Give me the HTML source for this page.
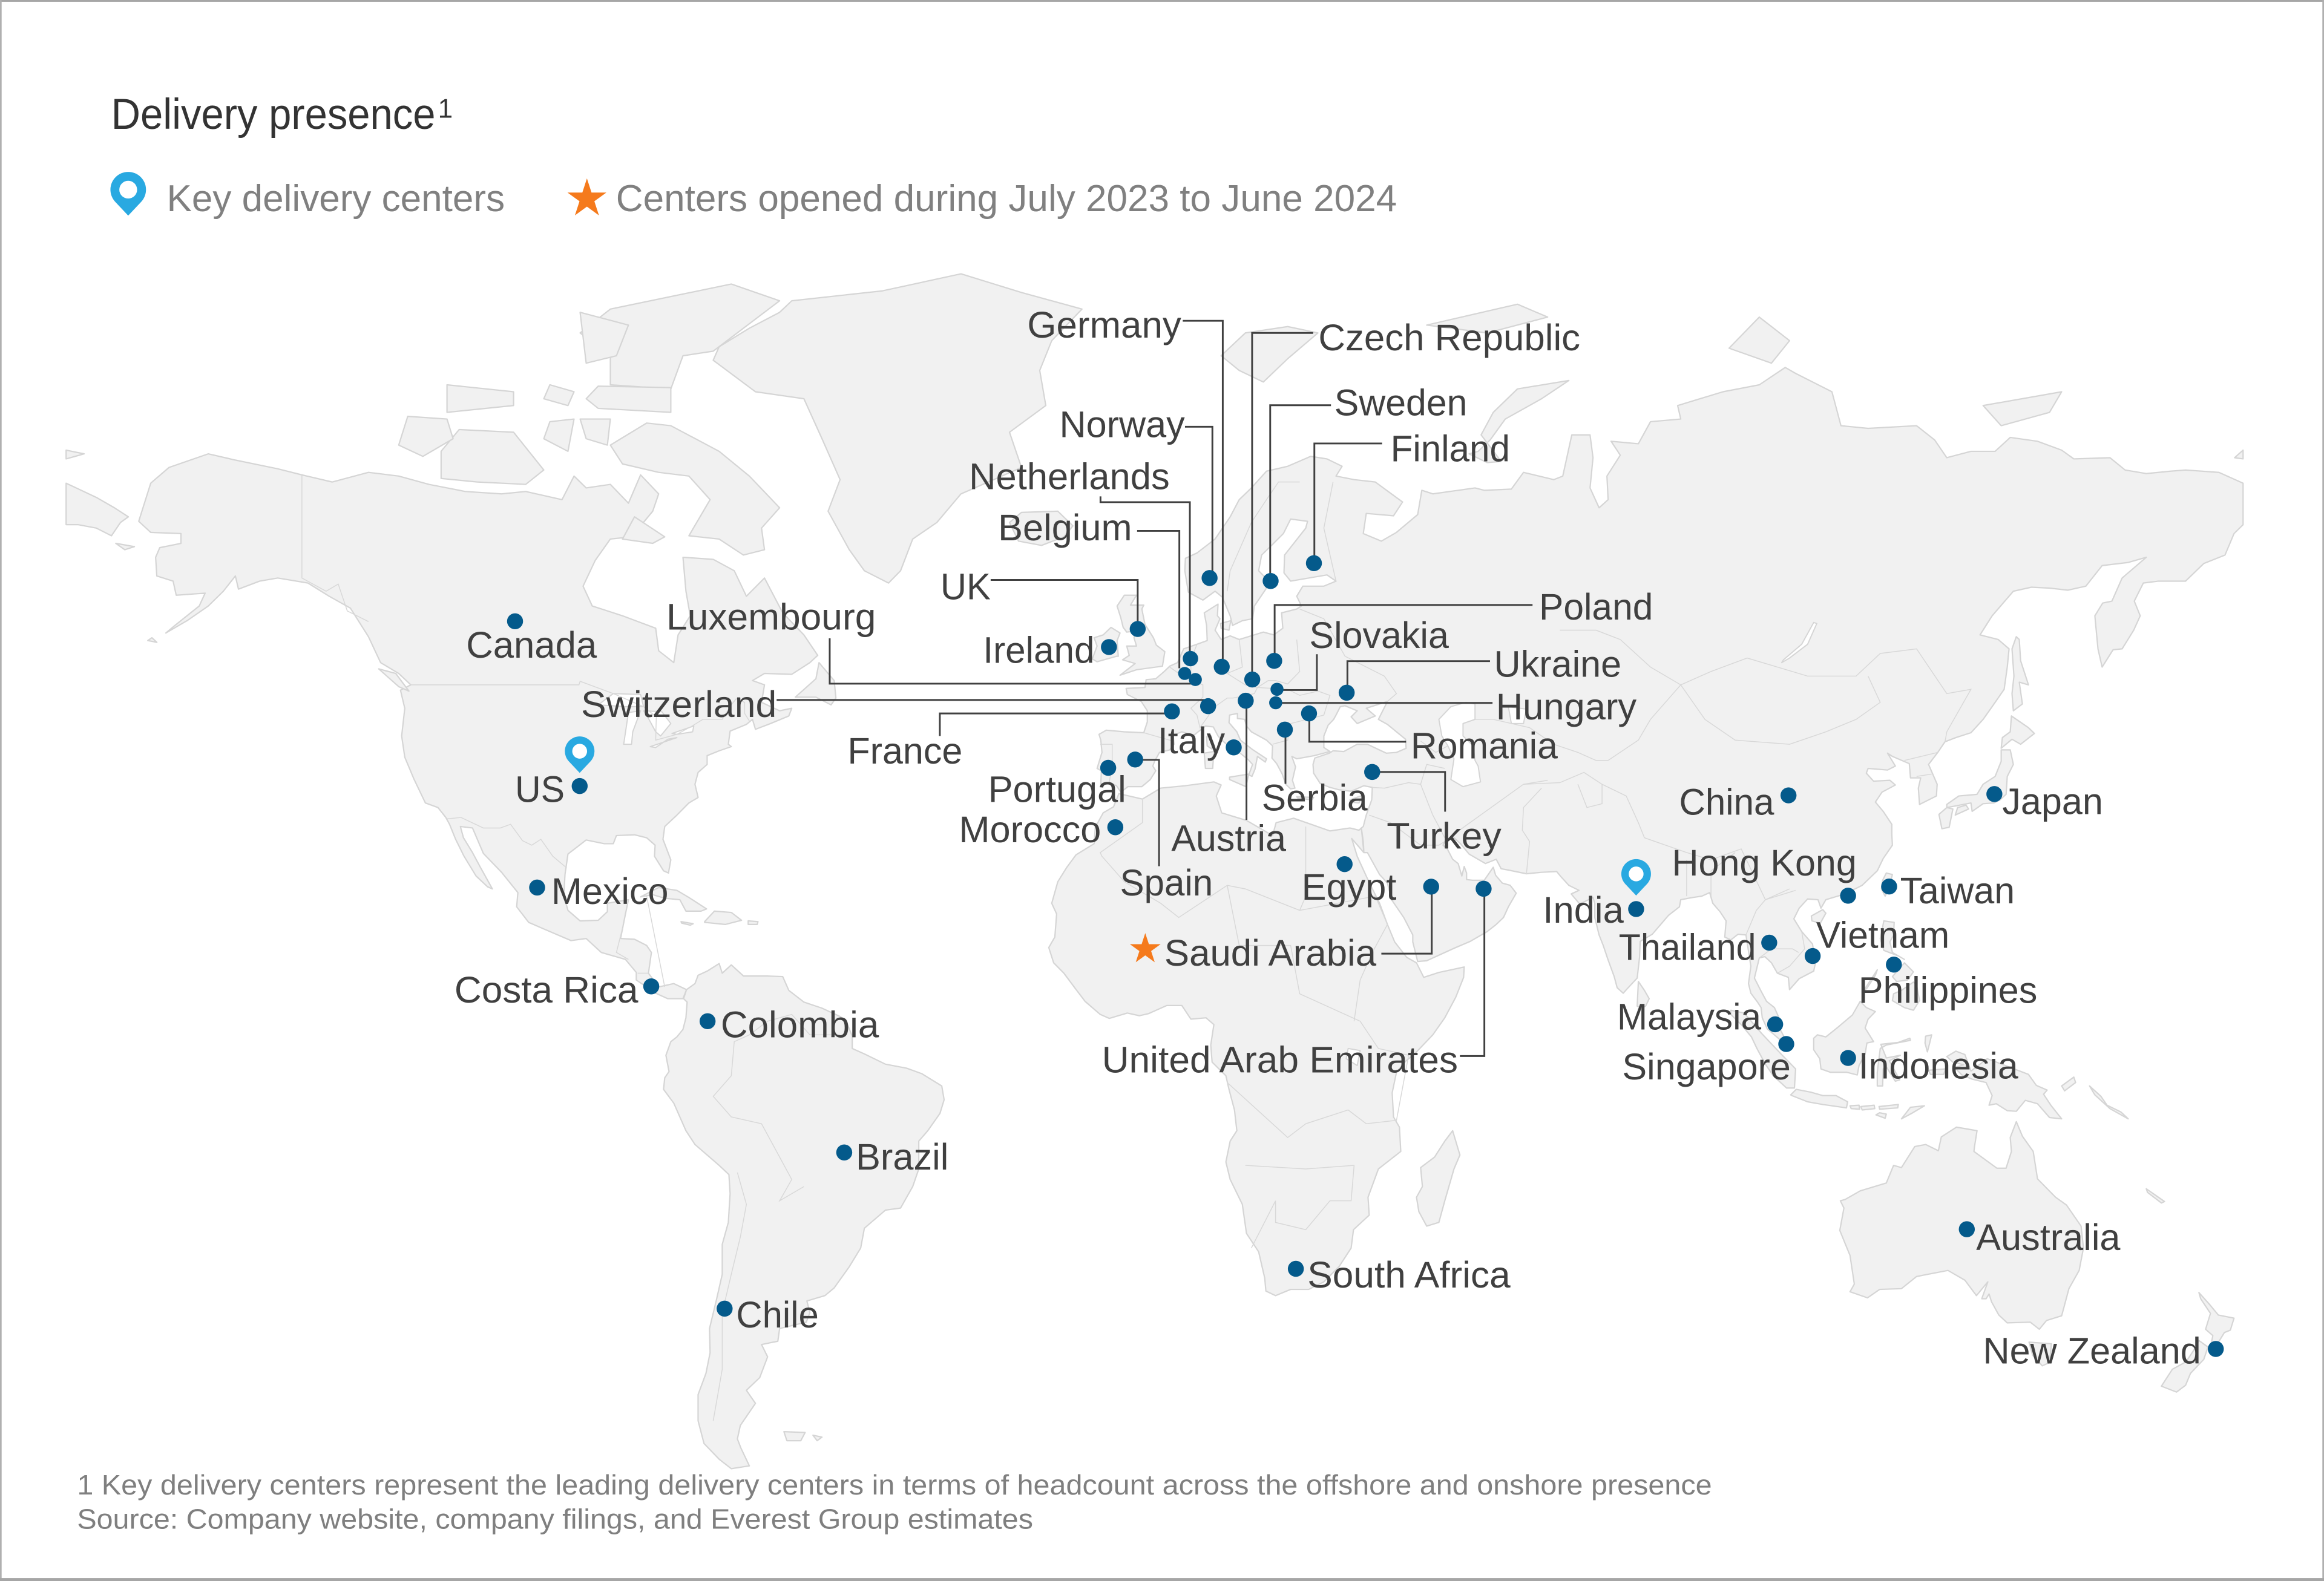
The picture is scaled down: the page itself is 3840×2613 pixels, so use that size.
<!DOCTYPE html>
<html><head><meta charset="utf-8"><title>Delivery presence</title>
<style>
html,body{margin:0;padding:0;background:#fff;}
svg{display:block;}
</style></head>
<body>
<svg xmlns="http://www.w3.org/2000/svg" width="3840" height="2613" viewBox="0 0 1568 1067" preserveAspectRatio="none">
<rect x="0" y="0" width="1568" height="1067" fill="#ffffff"/>
<g id="land" fill="#f1f1f1" stroke="#d5d5d5" stroke-width="0.9" stroke-linejoin="round"></g>
<g id="water" fill="#ffffff" stroke="#d5d5d5" stroke-width="0.8" stroke-linejoin="round"></g>
<g id="bord" fill="none" stroke="#d8d8d8" stroke-width="0.6"></g>

<!-- frame -->
<rect x="0" y="0" width="1568" height="1.2" fill="#a6a6a6"/>
<rect x="0" y="0" width="1.1" height="1067" fill="#b0b0b0"/>
<rect x="1566.9" y="0" width="1.1" height="1067" fill="#b0b0b0"/>
<rect x="0" y="1065" width="1568" height="2" fill="#a6a6a6"/>

<!-- title -->
<text x="75" y="87" font-family="Liberation Sans, Arial, sans-serif" font-size="29" fill="#333333" textLength="218.8" lengthAdjust="spacingAndGlyphs">Delivery presence</text>
<text x="295.5" y="79.5" font-family="Liberation Sans, Arial, sans-serif" font-size="18" fill="#333333">1</text>

<!-- legend -->
<g transform="translate(86.5,128) scale(1.2)">
<path d="M0,14.6 L-7.29,6.85 A10,10 0 1,1 7.29,6.85 Z" fill="#29a9e1"/>
<circle cx="0" cy="0" r="5" fill="#ffffff"/>
</g>
<text x="112.5" y="142.6" font-family="Liberation Sans, Arial, sans-serif" font-size="25.3" fill="#808080" textLength="228.1" lengthAdjust="spacingAndGlyphs">Key delivery centers</text>
<path transform="translate(396,134.2) scale(13.8)" d="M0,-1 L0.2245,-0.309 L0.951,-0.309 L0.3633,0.118 L0.588,0.809 L0,0.382 L-0.588,0.809 L-0.3633,0.118 L-0.951,-0.309 L-0.2245,-0.309 Z" fill="#f57a1c"/>
<text x="415.6" y="142.6" font-family="Liberation Sans, Arial, sans-serif" font-size="25.3" fill="#808080" textLength="526.9" lengthAdjust="spacingAndGlyphs">Centers opened during July 2023 to June 2024</text>

<!-- leader lines -->
<g fill="none" stroke="#404040" stroke-width="1.2">
<polyline points="798,216.5 825,216.5 825,450"/>
<polyline points="799.5,288 818,288 818,390"/>
<polyline points="886,224.7 844.8,224.7 844.8,459"/>
<polyline points="898,273.5 857,273.5 857,392"/>
<polyline points="932.5,299.3 886.8,299.3 886.8,380"/>
<polyline points="742.5,335 742.5,338.9 802.8,338.9 802.8,444"/>
<polyline points="767.2,358.3 795.7,358.3 795.7,451"/>
<polyline points="668.4,391.4 767.6,391.4 767.6,424"/>
<polyline points="1034,408.3 860,408.3 860,446"/>
<polyline points="888.5,441.5 888.5,465.7 861.5,465.7"/>
<polyline points="1005.3,446.2 909.1,446.2 909.1,467.5"/>
<polyline points="1007,474.4 860.7,474.4"/>
<polyline points="883.4,481.4 883.4,500.6 948.7,500.6"/>
<polyline points="867.3,492.5 867.3,529"/>
<polyline points="841,472.8 841,553.3"/>
<polyline points="766,512.8 782,512.8 782,584.6"/>
<polyline points="925.8,521 975,521 975,547.8"/>
<polyline points="932,643.6 966,643.6 966,598.4"/>
<polyline points="1001.5,600 1001.5,712.7 985,712.7"/>
<polyline points="559.8,430.8 559.8,461.4 806,461.4"/>
<polyline points="524,472.4 813,472.4"/>
<polyline points="634.1,496.7 634.1,481.5 790.7,481.5"/>
</g>

<!-- dots -->
<g fill="#045a8b">
<circle cx="347.5" cy="419.3" r="5.4"/>
<circle cx="391.1" cy="530.5" r="5.4"/>
<circle cx="362.4" cy="599" r="5.4"/>
<circle cx="439.4" cy="665.7" r="5.4"/>
<circle cx="477.4" cy="689.2" r="5.4"/>
<circle cx="569.6" cy="777.8" r="5.4"/>
<circle cx="488.9" cy="883.2" r="5.4"/>
<circle cx="874.3" cy="856.3" r="5.4"/>
<circle cx="748.2" cy="436.7" r="5.4"/>
<circle cx="767.6" cy="424.5" r="5.4"/>
<circle cx="747.7" cy="518.2" r="5.4"/>
<circle cx="765.9" cy="512.6" r="5.4"/>
<circle cx="752.5" cy="558.3" r="5.4"/>
<circle cx="790.7" cy="480.1" r="5.4"/>
<circle cx="799.3" cy="454.5" r="4.4"/>
<circle cx="803.2" cy="444.5" r="5.2"/>
<circle cx="806.5" cy="458.6" r="4.4"/>
<circle cx="816.1" cy="390.1" r="5.4"/>
<circle cx="824.3" cy="450" r="5.4"/>
<circle cx="815.1" cy="476.6" r="5.4"/>
<circle cx="832.4" cy="504.4" r="5.4"/>
<circle cx="840.5" cy="472.9" r="5.4"/>
<circle cx="844.9" cy="458.6" r="5.4"/>
<circle cx="857.3" cy="392.1" r="5.4"/>
<circle cx="886.5" cy="380.1" r="5.4"/>
<circle cx="859.7" cy="446" r="5.4"/>
<circle cx="861.6" cy="465.2" r="4.4"/>
<circle cx="860.7" cy="474.3" r="4.4"/>
<circle cx="866.9" cy="492.4" r="5.4"/>
<circle cx="883.2" cy="481.5" r="5.4"/>
<circle cx="908.6" cy="467.5" r="5.4"/>
<circle cx="925.8" cy="521" r="5.4"/>
<circle cx="907.2" cy="583.2" r="5.4"/>
<circle cx="965.6" cy="598.4" r="5.4"/>
<circle cx="1001" cy="599.8" r="5.4"/>
<circle cx="1103.9" cy="613.5" r="5.4"/>
<circle cx="1206.7" cy="536.8" r="5.4"/>
<circle cx="1345.6" cy="535.9" r="5.4"/>
<circle cx="1246.9" cy="604.5" r="5.4"/>
<circle cx="1274.6" cy="598.3" r="5.4"/>
<circle cx="1193.7" cy="636.2" r="5.4"/>
<circle cx="1223" cy="645.2" r="5.4"/>
<circle cx="1277.8" cy="651" r="5.4"/>
<circle cx="1197.7" cy="691.3" r="5.4"/>
<circle cx="1205.2" cy="704.6" r="5.4"/>
<circle cx="1246.9" cy="714" r="5.4"/>
<circle cx="1327" cy="829.6" r="5.4"/>
<circle cx="1495" cy="910.4" r="5.4"/>
</g>

<!-- pins -->
<g transform="translate(391.1,507)">
<path d="M0,14.6 L-7.29,6.85 A10,10 0 1,1 7.29,6.85 Z" fill="#29a9e1"/>
<circle cx="0" cy="0" r="5" fill="#ffffff"/>
</g>
<g transform="translate(1103.9,589.8)">
<path d="M0,14.6 L-7.29,6.85 A10,10 0 1,1 7.29,6.85 Z" fill="#29a9e1"/>
<circle cx="0" cy="0" r="5" fill="#ffffff"/>
</g>
<!-- map star -->
<path transform="translate(772.7,640.6) scale(10.9)" d="M0,-1 L0.2245,-0.309 L0.951,-0.309 L0.3633,0.118 L0.588,0.809 L0,0.382 L-0.588,0.809 L-0.3633,0.118 L-0.951,-0.309 L-0.2245,-0.309 Z" fill="#f57a1c"/>

<!-- labels -->
<g font-family="Liberation Sans, Arial, sans-serif" font-size="25" fill="#404040">
<text x="693.1" y="227.8" textLength="103.9" lengthAdjust="spacingAndGlyphs">Germany</text>
<text x="889.5" y="236.4" textLength="176.7" lengthAdjust="spacingAndGlyphs">Czech Republic</text>
<text x="714.8" y="295" textLength="84.6" lengthAdjust="spacingAndGlyphs">Norway</text>
<text x="900.3" y="280.3" textLength="89.7" lengthAdjust="spacingAndGlyphs">Sweden</text>
<text x="938.2" y="311.4" textLength="80.6" lengthAdjust="spacingAndGlyphs">Finland</text>
<text x="653.8" y="330.2" textLength="135.4" lengthAdjust="spacingAndGlyphs">Netherlands</text>
<text x="673.4" y="364.7" textLength="90.4" lengthAdjust="spacingAndGlyphs">Belgium</text>
<text x="634.5" y="404.5" textLength="33.9" lengthAdjust="spacingAndGlyphs">UK</text>
<text x="663.3" y="447.4" textLength="75.2" lengthAdjust="spacingAndGlyphs">Ireland</text>
<text x="1038.4" y="418.1" textLength="76.9" lengthAdjust="spacingAndGlyphs">Poland</text>
<text x="883.4" y="437.3" textLength="94.1" lengthAdjust="spacingAndGlyphs">Slovakia</text>
<text x="1008" y="456.8" textLength="86" lengthAdjust="spacingAndGlyphs">Ukraine</text>
<text x="1009.3" y="485.6" textLength="94.9" lengthAdjust="spacingAndGlyphs">Hungary</text>
<text x="951.8" y="511.9" textLength="99.2" lengthAdjust="spacingAndGlyphs">Romania</text>
<text x="449.6" y="424.8" textLength="141.4" lengthAdjust="spacingAndGlyphs">Luxembourg</text>
<text x="392" y="483.9" textLength="132" lengthAdjust="spacingAndGlyphs">Switzerland</text>
<text x="571.8" y="515.4" textLength="77.6" lengthAdjust="spacingAndGlyphs">France</text>
<text x="781.1" y="508.3" textLength="45.4" lengthAdjust="spacingAndGlyphs">Italy</text>
<text x="666.7" y="541.2" textLength="93.1" lengthAdjust="spacingAndGlyphs">Portugal</text>
<text x="647" y="568.4" textLength="95.9" lengthAdjust="spacingAndGlyphs">Morocco</text>
<text x="755.6" y="604.3" textLength="62.8" lengthAdjust="spacingAndGlyphs">Spain</text>
<text x="790.3" y="574.4" textLength="77.4" lengthAdjust="spacingAndGlyphs">Austria</text>
<text x="851.3" y="547" textLength="71.4" lengthAdjust="spacingAndGlyphs">Serbia</text>
<text x="935.6" y="572.8" textLength="77.4" lengthAdjust="spacingAndGlyphs">Turkey</text>
<text x="878.2" y="607.2" textLength="64" lengthAdjust="spacingAndGlyphs">Egypt</text>
<text x="785.6" y="651.8" textLength="143" lengthAdjust="spacingAndGlyphs">Saudi Arabia</text>
<text x="743.4" y="723.7" textLength="240.3" lengthAdjust="spacingAndGlyphs">United Arab Emirates</text>
<text x="314.5" y="443.8" textLength="88.2" lengthAdjust="spacingAndGlyphs">Canada</text>
<text x="347.5" y="541.2" textLength="33.5" lengthAdjust="spacingAndGlyphs">US</text>
<text x="372" y="610" textLength="79" lengthAdjust="spacingAndGlyphs">Mexico</text>
<text x="306.6" y="676.7" textLength="124" lengthAdjust="spacingAndGlyphs">Costa Rica</text>
<text x="486.3" y="700.2" textLength="106.7" lengthAdjust="spacingAndGlyphs">Colombia</text>
<text x="577.4" y="789.3" textLength="62.6" lengthAdjust="spacingAndGlyphs">Brazil</text>
<text x="496.7" y="895.9" textLength="55.7" lengthAdjust="spacingAndGlyphs">Chile</text>
<text x="882.1" y="869" textLength="137" lengthAdjust="spacingAndGlyphs">South Africa</text>
<text x="1132.9" y="549.8" textLength="64.1" lengthAdjust="spacingAndGlyphs">China</text>
<text x="1350.9" y="549.5" textLength="68" lengthAdjust="spacingAndGlyphs">Japan</text>
<text x="1128" y="590.8" textLength="124.7" lengthAdjust="spacingAndGlyphs">Hong Kong</text>
<text x="1282" y="609.6" textLength="77.4" lengthAdjust="spacingAndGlyphs">Taiwan</text>
<text x="1041" y="622.8" textLength="54.5" lengthAdjust="spacingAndGlyphs">India</text>
<text x="1092.2" y="647.9" textLength="92.6" lengthAdjust="spacingAndGlyphs">Thailand</text>
<text x="1225.3" y="639.7" textLength="90" lengthAdjust="spacingAndGlyphs">Vietnam</text>
<text x="1253.9" y="676.8" textLength="120.7" lengthAdjust="spacingAndGlyphs">Philippines</text>
<text x="1091" y="694.7" textLength="97.3" lengthAdjust="spacingAndGlyphs">Malaysia</text>
<text x="1094.5" y="728.5" textLength="113.7" lengthAdjust="spacingAndGlyphs">Singapore</text>
<text x="1253.9" y="727.8" textLength="107.8" lengthAdjust="spacingAndGlyphs">Indonesia</text>
<text x="1333.3" y="843.6" textLength="97.3" lengthAdjust="spacingAndGlyphs">Australia</text>
<text x="1337.9" y="920.2" textLength="147.1" lengthAdjust="spacingAndGlyphs">New Zealand</text>
</g>

<!-- footnote -->
<g font-family="Liberation Sans, Arial, sans-serif" font-size="19" fill="#7f7f7f">
<text x="52" y="1008.6" textLength="1103" lengthAdjust="spacingAndGlyphs">1 Key delivery centers represent the leading delivery centers in terms of headcount across the offshore and onshore presence</text>
<text x="52" y="1031.7" textLength="645" lengthAdjust="spacingAndGlyphs">Source: Company website, company filings, and Everest Group estimates</text>
</g>
</svg>

<script>
(function(){
var NS='http://www.w3.org/2000/svg';
function pr(a){var s='';for(var i=0;i<a.length;i+=2){var x=779+4.08*a[i];var y=707.6-329.45*Math.log(Math.tan(Math.PI/4+0.4*a[i+1]*Math.PI/180));s+=(i?'L':'M')+x.toFixed(1)+' '+y.toFixed(1);}return s;}
function add(gid,arr,close){var g=document.getElementById(gid);for(var k=0;k<arr.length;k++){var p=document.createElementNS(NS,'path');p.setAttribute('d',pr(arr[k])+(close?'Z':''));g.appendChild(p);}}
var NA=[-168,65.6,-166,68.9,-163,70.2,-156.5,71.3,-152,70.8,-145,70.1,-141,69.6,-136,69,-130,69.8,-125,69.5,-120,68.8,-114,68.2,-108,68,-104,68.2,-98,67.5,-96,69.5,-94,68.5,-90,68.8,-87,67.2,-85,69.6,-82,68,-83,66.5,-86.5,64.2,-90,64,-92.5,62,-94.5,59.5,-93,57.5,-88,56.5,-82.5,55.2,-82,52.8,-79.5,51.5,-78.8,54.5,-76.8,56.5,-77.5,59,-78,62.3,-73,62.1,-69.5,61,-67.5,58.5,-64.5,60.3,-61.5,56.8,-58,54.5,-55.7,52.3,-57,51.5,-60,50.2,-64.5,50.3,-66.5,49.5,-64.5,49,-64.8,47.8,-65,47,-62,46,-60,46.3,-60.5,45.4,-63.5,44.5,-66,43.8,-66.5,45,-67.5,44.4,-70.2,43.6,-70.5,42,-70,41.7,-72,41.2,-74,40.6,-74,39.5,-75.5,38.5,-76,37,-75.5,35.3,-77,34.6,-79,33,-81,31.5,-81.3,29.8,-80,27,-80.4,25.2,-81.2,25.5,-82.7,27.5,-82.6,29,-84,30,-86,30.4,-89,30.3,-89.5,29.2,-91,29.2,-94,29.7,-97,27.8,-97.5,25,-97.7,22,-97,20,-95,18.5,-92,18.6,-90.5,19.8,-90.5,21,-87,21.5,-87.5,19.5,-88.3,16,-86,15.9,-84,15,-83.2,14,-83.7,11,-82,9,-79.5,9.5,-77.4,8.6,-78,7.3,-80.5,7.3,-82.5,8.1,-85.7,10,-85.7,11.1,-87.5,13,-91.5,14,-94,16,-96.5,15.7,-100,17,-103.5,18.3,-105.5,20.5,-105.3,22.5,-108,25.3,-111,27.9,-112.8,31.3,-114.8,31.5,-114.3,30,-112.8,28,-111.5,26,-110.3,24.2,-109.5,23,-110.3,23.3,-112.2,24.8,-114.2,27.5,-115.6,29.8,-116.6,31.8,-117.2,32.7,-118.5,34,-120.6,34.6,-122.5,37.7,-124,40.4,-124.5,43,-124,46.3,-124.7,48.4,-123,49,-125,50.3,-128,51.5,-130,54.3,-133,57.3,-136.5,58.5,-140,59.8,-145,60.3,-148,60,-151.5,59.2,-152,60.5,-154,59,-156.5,57.5,-160,56,-163.5,54.7,-162,55.5,-158,57.5,-157,58.8,-161.8,58.6,-162.3,60,-165,60.5,-165.2,62.3,-164.5,63.2,-161,63.6,-161,64.5,-166,64.6];
var GR=[-73,78.2,-66,76,-58,75.5,-55,72.5,-52,69.2,-54,66.5,-50.5,63,-48,61,-44,59.8,-42,61,-40,64,-36,65.5,-32,68,-22,70.2,-24,73,-18,75,-19,77.5,-17,79.5,-12,81.5,-22,82.5,-32,83.6,-45,82.6,-60,82,-62,81.3,-67,80.3,-72,79.1];
var SA=[-77.4,8.6,-76,9.5,-75.5,10.7,-74,11.3,-72,12.4,-71.5,11,-70,12.2,-68,10.6,-64,10.6,-61.5,10.5,-60.5,8.5,-58,6.8,-55,5.9,-52,4.7,-51,4,-50,1.8,-50,0,-48,-0.8,-44.5,-2.3,-41,-2.9,-38.5,-3.7,-35.2,-5.5,-34.8,-7.5,-35.5,-9.5,-37.5,-12,-39,-13.5,-39,-17.5,-40,-20,-42,-23,-44.5,-23.3,-48,-25.8,-48.6,-28.5,-50.5,-31,-53,-33.8,-54.5,-34.8,-57.5,-35.5,-57,-37,-57.6,-38.2,-62,-39,-62.3,-40.6,-65,-41,-64,-42.5,-65.3,-45,-67.5,-46.5,-66,-48,-68.5,-50.5,-69,-52,-68.4,-53,-67,-54.9,-70,-55.2,-72,-54.2,-74.5,-52.5,-75.5,-50,-75.5,-47,-74.2,-44.5,-73.5,-42,-73.6,-39,-72.5,-35.5,-71.5,-32,-71.5,-28,-70.5,-25,-70.2,-21,-70.4,-18.3,-72,-17,-76,-14,-77.5,-12,-79.5,-8,-81.2,-6,-81,-4.3,-80.3,-3.4,-80.8,-1,-80,1,-79,1.7,-78,2.8,-77.5,4.5,-77.3,6.8,-77.9,7.3];
var AF=[-5.9,35.8,-2,35.1,1,36.5,5,36.8,9.8,37.3,11,36.9,10.2,35.5,11.1,33.3,15.2,32.3,19.5,30.3,20.1,32,23,32.6,29,30.9,32.3,31.3,33.8,31,34.2,31.3,34.6,28,32.6,29.9,33.5,27.5,35.5,23.9,37.2,21,38.5,18,39.7,15.5,41.7,13.3,43.3,12.5,44.5,10.4,47,11.1,51.2,11.9,51.1,10.4,49.8,7.5,48,4.5,46,2,43,-0.8,41.5,-1.9,40,-3.5,39.3,-6.5,39.5,-10,40.5,-11.5,40.7,-15,37,-17.5,35.3,-21.5,35.5,-24,32.9,-26,32.5,-28.5,30.5,-31,28,-33,25.5,-34,22.5,-34,20,-34.8,18.4,-34.2,18.2,-32.5,17.2,-29,15.2,-26.5,14.5,-22.5,12.5,-19,11.8,-16.5,12.5,-13.5,13.6,-12,13.2,-9,12.3,-6,11.8,-4,9.5,-2,9.3,0.5,9.8,3.5,8.5,4.5,6,4.3,4.5,6.3,2,6.3,-1,5.1,-2.5,4.8,-4.5,5.2,-7.5,4.4,-9,5,-11.5,6.9,-13.2,8.9,-15,11,-16.7,12.5,-17.5,14.7,-16.5,16.2,-16.2,19.5,-17,21,-16,24,-14.5,26,-13,27.7,-10,29.2,-9.8,31.4,-8.5,33.3,-6.8,34.1];
var EU=[-5.6,36,-6.3,36.8,-7.5,37.2,-8.9,37,-8.8,38.7,-9.5,39,-8.7,41,-8.9,42.5,-9.2,43.2,-8,43.7,-5,43.5,-1.8,43.4,-1.2,44.7,-1.2,46,-2.2,47.1,-4.5,47.9,-4.7,48.6,-1.6,48.7,-1.4,49.6,0.2,49.7,1.6,50.5,2.5,51.1,3.8,51.5,4.8,53,7,53.5,8.7,53.9,8.6,55.5,8.2,56.8,10.5,57.7,10.4,56.5,10.8,56.2,10,55,11,54,12.5,54.4,14,54,18,54.8,19.7,54.5,21.2,55.2,21,56.8,23.5,57.2,24.3,57.5,23.5,58.5,24.5,59.5,28,59.5,30,60,28.5,60.6,22.5,60,21.4,60.8,21.5,62.5,25,65,25.3,65.6,22.5,65.8,21.3,64.5,19.5,63.5,17.7,62.5,17.2,61,18.9,60,18.5,59.3,16.5,57.5,16.2,56.2,14.5,56,12.9,55.5,12.5,56.5,11.2,58.4,10,59,8,58.1,5.6,58.9,5,61,5.1,62.2,7,62.7,10,64,12.5,66,14,67.5,16,68.5,18.5,69.9,22,70.3,25.8,71.1,28.5,70.9,31,70.3,30,69.5,33,69.2,36.5,69,41,67.3,39.5,66.1,35,66.3,34.5,64.5,37.5,63.8,40,64.6,43.5,66.2,44.2,68.3,46,68,53,68.5,54.5,68.3,59,68.4,61,69.8,66,69.2,67.5,69.5,69,72.8,72,72.8,72.5,71,72,68.5,73.5,66.8,75,67.5,74.8,69.5,77,71.2,75.5,72.3,80,72.1,82,73.8,87,74,86.5,75,94,76,100,76.5,104.3,77.7,106,77.3,112,76,113.5,73.5,118,73.3,126,73.5,129,72.4,131,71,135,71.5,139,71.5,141.5,72.6,146,72.3,150,71.6,152,70.9,158,71,160.5,70,164,69.7,168,69.9,170.5,70,176,69.8,180,68.9,180,65.3,178.5,64.5,177,62.5,173.5,61.7,170.5,60,166,60,163.5,59.8,162,58,163,56.5,161.9,55,160,53,158.5,52.9,156.7,51,156,53,155.5,56.5,156.8,57.8,158.3,58,160,60.3,164,62.3,161,61.8,156.7,61.5,154,59.5,151,59.1,148,59.3,145,59.4,142,59,138.5,56.5,136.5,54.5,139.5,54,141.3,53,141,51,140.5,48.5,138.5,46.5,137,45,135,43.4,132.5,42.8,130.7,42.3,129.5,41,128,39.5,129.4,37,129.3,35.5,126.5,34.4,126.3,36.5,126.7,37.8,125,37.8,124.8,39.6,122,40.5,121.2,40.9,122.5,39.3,121.2,38.8,118,39,117.7,38.4,118.9,37.4,121.6,37.5,122.5,36.9,120.3,36,119.2,34.7,120.5,33.5,121.9,31.8,121.9,30.5,122,29,120.5,27.2,119.5,25.5,117,23.5,114.2,22.3,111,21.5,110.2,20.3,109.7,21.5,108,21.6,106.6,20.3,105.7,18.8,107,17,108.8,15.2,109.3,12.5,109,11.3,106.6,10.2,105,8.6,104.8,10.4,103,11,102,12.5,100.9,13.4,100,13.2,99.2,10.3,100.3,8.4,101.2,6.9,102.5,6,103.4,4.2,103.5,2.7,104.3,1.4,103.4,1.3,101.3,2.9,100.5,4.5,100.3,6,99.7,6.8,98.6,8.1,98.2,9.5,98.6,12,97.8,16.5,96.5,16.6,95.3,15.8,94.3,16.2,94.5,18.5,93.5,19.8,92.3,21,91.8,22.5,90.5,22,89,21.8,87,21.5,86.8,20.5,85,19.3,82.3,16.6,80.3,15.6,80.2,13.3,79.8,10.3,78.3,8.9,77.5,8.1,76.5,8.9,76,10.5,75,12.9,74.2,15,73.5,16.5,72.8,19,72.8,21,72.5,21.8,70.3,20.9,68.9,22.3,70.2,22.8,68.5,23.5,67.2,24.7,66.5,25.4,64,25.3,61.5,25.1,58.5,25.6,57.3,25.8,56.5,27.1,54.7,26.5,52,27.8,50.6,29.2,49.5,30,48.5,29.9,48,29.5,47.7,29,48.4,28.5,49.3,27.1,50.2,26.5,50.8,24.8,51.2,26.1,51.6,25.2,51.6,24.3,52.6,24.2,54.5,24.2,56,26,56.4,24.9,57.5,23.8,58.8,23.5,59.8,22.4,58.5,20.5,57.7,19,56.5,18,55,17,52.2,15.6,49.5,14.6,45,12.8,43.5,12.7,42.7,15.5,42.7,16.5,41.2,19,39.2,21.5,38.5,23.8,37.2,25,35.2,28,34.6,28,34.5,29.5,34.2,31.3,34.5,31.5,35,33,35.9,35,36,36.6,34.6,36.8,32.5,36.1,30.5,36.3,29,36.6,27.4,37.1,26.3,38.4,26.2,39.5,26.5,40.3,28.9,40.9,29.5,41.2,31.3,41.1,33.5,42,35.2,42,38.3,40.9,40,41,41.6,41.5,41.5,42.6,38.5,44.4,37,45,38.5,47.1,35,46.3,36.5,45.4,35.5,45.1,33.5,44.5,32.5,45.3,33.5,46,31.5,46.6,30.7,46.5,30,45.5,29.6,45,28.7,44.3,28,43,28,41.6,29,41.1,26.4,40.6,23.5,40.2,22.7,40.5,23.3,39.2,22.8,37.5,23.2,36.5,22.5,36.4,21.7,37,21.1,38.3,20.2,39.6,19.4,40.3,19.5,41.8,18.5,42.5,16,43.5,15.2,44.2,14.9,45,13.7,45.1,13.7,45.7,12.4,45.5,12.3,44.6,13.6,43.5,14.2,42.5,16.1,41.4,18.5,40.2,18.3,39.8,17,40.5,16.6,38.9,16.1,38,15.6,38.2,16.2,39.5,15.5,40.1,14,41,12.4,41.7,11.1,42.5,10.5,43,9.7,44.1,8.4,44.2,6.5,43.1,4.5,43.5,3.1,43.1,3.2,42,2.5,41.3,0.8,41,0,39.9,-0.3,39.3,0.2,38.7,-0.7,37.6,-2.1,36.7,-4.4,36.7];
var AU=[113.4,-22,114.2,-21.8,116.7,-20.6,121,-19.5,122.2,-17,123.5,-17.3,125.7,-14.3,127.5,-14,129.6,-14.9,130.1,-12.9,132.6,-11.5,136,-12,135.6,-14.3,135.5,-15,139.3,-17.4,140.8,-17.4,141.7,-15,141.5,-13,142.5,-10.7,143.5,-12.8,145.3,-15,146,-18.9,149,-21.5,150.8,-22.6,153.2,-25.5,153.6,-28.5,152.9,-31.5,151.2,-33.9,150,-37.4,147.5,-38,146.3,-39.1,144.8,-38.2,141,-38.3,139.6,-37.3,138.4,-35.6,138,-34.6,137.5,-35.2,136.8,-35.2,137.8,-33,135.9,-34.8,134,-32.8,131.2,-31.5,126,-32.3,123.5,-33.9,119.9,-34,117.9,-35.1,115,-34.3,115.7,-33.3,115,-29.5,113.3,-26.1,114,-23];
var isl=[
[-80,73.5,-72,71.5,-67,69.5,-62,66.8,-65,65,-64.5,63,-68,62.5,-72,64,-77,64.3,-73.5,67.5,-77,69.5,-82,69.8,-88,70.5,-90,72,-84,73.7],
[-118,71.5,-115,73.2,-106,73,-101,70,-104,68.8,-112,69,-118,69.3],
[-125,72,-123.5,74.2,-117,74,-116,72.5,-121,71.1],
[-90,76.5,-80,76.2,-78,78.5,-73,78.8,-62,82,-70,83,-90,81.5,-95,80,-90,78.5],
[-92,76.4,-80,76.3,-80,74.5,-92,74.8,-94,75.5],
[-117,76.5,-106,76,-106,75,-117,74.5],
[-96,74,-97,71.5,-101,72.5,-100,73.8],
[-95,74,-90,74,-90.5,72,-94,72.5],
[-95,81.3,-87,80.5,-89,78.5,-94,78],
[-100,76.5,-96,76,-97,75,-101,75.5],
[-86,66,-81,64.2,-83,63.6,-88,64],
[-24,65.5,-22,66.4,-16,66.5,-13.5,65.2,-15,64.2,-18.7,63.4,-22.5,63.8],
[-85,21.9,-82,23.2,-79,22.8,-77,21.8,-74.1,20.2,-75,19.9,-77.5,19.9,-78.5,21.5,-81,21.7,-83,22.2],
[-74.4,18.4,-72.8,19.9,-70,19.7,-68.3,18.6,-71,18,-74.4,18.3],
[-78.3,18.4,-76.3,18.1,-76.8,17.9,-78.2,18.2],
[-67.2,18.5,-65.6,18.4,-65.7,18,-67.2,18],
[-59.4,47.6,-56,49.7,-55.5,51.5,-53,49.5,-52.7,47.5,-53.5,46.7,-56,47.6],
[-128.3,50.8,-125,48.8,-123.3,48.3,-125.5,50.3],
[-61.3,-51.2,-57.8,-51.3,-58.5,-52.2,-60.8,-52.2],
[49.3,-12,50.5,-15.5,49.5,-17.5,48,-22,47,-25,45,-25.5,43.7,-23.5,43.3,-21.5,44.3,-20,44,-17.3,46.3,-15.8,48,-13.5],
[-5.7,50.1,-3,50.7,1.3,51.1,1.7,52.7,0.3,53.4,-0.2,54.2,-1.6,55.6,-2.1,57.2,-1.8,57.6,-4,57.6,-3,58.6,-5,58.6,-6.2,57.5,-5.6,56.3,-5.2,55.3,-4.6,54.8,-3.2,54.9,-3.4,54.2,-3,53.3,-4.6,53.3,-4.2,52.3,-5.3,51.8,-3.2,51.4],
[-6,52.2,-6.2,53.9,-5.7,54.7,-7.2,55.3,-8.5,54.5,-10,54.2,-9.5,53.3,-10.3,51.9,-9.5,51.6,-6.3,52.2],
[10.9,55.7,12.6,56,12.3,55,11,55.2],
[12.4,37.9,15.6,38.3,15.1,36.7,12.4,37.6],
[8.2,40.9,9.8,41.1,9.6,39,8.4,39],
[8.6,42.9,9.4,43,9.5,41.4,8.7,41.8],
[23.5,35.4,26.3,35.3,26,35,23.7,35.2],
[32.3,35,34.5,35.6,33.8,34.6,32.5,34.7],
[129.7,33.1,131,34,132,33.8,131.4,31.4,130.2,31.2],
[131,34.4,133,35.5,136,35.7,137,37,139,38,140,39.9,140,41.3,141.5,41.3,142,39.5,141,38,140.8,35.7,139.8,35,138.8,34.6,137,34.5,135.2,33.5,135,34.6,132.5,34.2,131,34],
[140,41.5,141.8,42.6,143.2,42,145.5,43.3,144.5,44,141.7,45.4,141.5,43.5,140.2,42.8],
[132.4,33,134.6,33.8,134.2,34.3,132.8,34],
[142,46,143.5,46.8,143,49.3,144.5,49,143.2,51.7,143,54,142.5,54.3,141.8,53,142.1,50,141.8,48],
[121,25.2,122,25,121.4,23,120.8,22,120.2,23,120.4,24.2],
[108.6,19.2,110.5,20.1,111,19.6,110.1,18.2,108.7,18.5],
[79.8,6.2,80,9.8,81,8.5,81.8,7.3,81.2,6.2,80.5,5.9],
[120.6,18.5,122.3,18.3,122.2,16.5,121.6,15.5,122,14,124,13,123,13.5,121.5,14,120.6,14.3,120,16,120.4,17.6],
[122,7,124,6,125.5,5.6,126.5,7,126,9.3,125.5,9.7,123.5,8.5,122.2,8],
[122,10.5,124,12.5,125.5,11.2,124.5,10,122.7,9.8],
[117.2,8.4,119.5,11.5,119.2,10.7,117.8,8.8],
[109,1.5,109.6,2,111,1.7,113,3.1,115.4,4.9,116.7,6.9,117.7,6,119.2,5.4,118,4.3,117.5,3,118.9,1,117.8,0.8,117.5,-0.8,116.5,-2.5,116.2,-3.9,114.5,-3.5,111.8,-3.5,110.2,-3,110,-1.5,109,-0.2],
[95.3,5.6,97.5,5.2,100.4,2.2,103.8,-1,106,-3,105.8,-5.8,104.5,-5.8,102.3,-4,101,-2.3,99.6,0,98.7,1.7,97,3.5,95.3,5],
[105.2,-6.8,106.1,-6,108.5,-6.4,110.5,-6.9,112.7,-6.9,114.6,-7.8,114.4,-8.7,110.5,-8.2,108,-7.8,105.4,-6.9],
[119.5,-5.5,120.4,-5.5,120.5,-3,121,-2.7,122.5,-4.8,123.2,-4.6,121.5,-1.8,123.3,-1,121,-1.4,120.1,0.6,123,0.9,124.9,1.5,125,1.2,121,0.5,120,0,119.5,-3.5],
[115,-8.4,116.5,-8.3,116.6,-8.9,115.2,-8.8],
[116.8,-8.5,119,-8.3,119.1,-8.8,117,-9],
[119.8,-8.5,123,-8.2,122.9,-8.7,119.9,-8.9],
[123.5,-10.3,125,-8.6,127.3,-8.4,125.2,-9.5],
[119.9,-9.4,121,-9.6,120.8,-10.2,119.3,-9.7],
[127.5,1.8,128.5,2,128.1,0.5,127.8,-0.5,127.4,0.8],
[128,-3.2,130.8,-3,130.5,-3.8,128.3,-3.8],
[131,-1.2,132.5,-0.4,134,-0.9,135,-3.3,137.7,-1.5,141,-2.6,144.5,-3.8,145.8,-5.4,147.6,-6.1,147,-6.7,148.2,-8.3,150,-10.3,148,-10.1,146,-8.1,144,-7.6,142.5,-9.2,141,-9.1,139.2,-8.1,138,-8.3,138.5,-6.9,137.5,-5,135.2,-4.5,133.5,-3.9,132.3,-2.8,133.8,-2.4,132,-2],
[150,-5.5,152,-4.2,152.3,-5,150.5,-6.2],
[154.6,-5.5,156.5,-7,157.5,-8.3,159.8,-9.3,161,-10.3,160,-9.8,158,-8.8,155.5,-6.8],
[164,-20.3,167,-22.1,166.5,-22.3,164.2,-20.8],
[144.6,-40.7,148.3,-40.9,148,-43.2,146.8,-43.6,145.2,-42.3],
[172.7,-34.4,174.5,-36,175.9,-37.3,178.5,-37.7,177.9,-39.2,176.9,-39.5,175.2,-41.6,174.6,-41.3,175,-39.9,173.8,-39.1,174.6,-37.1,173,-35.2],
[172.7,-40.5,174.2,-41.3,173.5,-42.8,171.3,-44.5,170.5,-45.9,169,-46.7,166.5,-46,168.3,-44,170.6,-43.1,172.1,-41.4],
[52,71.3,55,70.6,57.3,70.7,54,72.8,56,74.5,60,76.2,68.5,76.8,64,75.5,58,74,55.5,72.4,53.5,71.5],
[11,78.5,15,80,22,80.4,27,80,22,78.3,18,76.7,14,77.5],
[45,80.5,60,81.8,65,81,55,80],
[95,79,100,81,105,79.5,102,78],
[137,75,150,76,148,74.5,140,73.5],
[178.6,71,180,71.6,180,70.9],
[-180,71.6,-177,71.3,-180,70.9],
[-180,68.9,-175,67.7,-172,66.8,-169.7,66,-171,65.5,-172.5,64.3,-175,65,-178,65.3,-180,65.3],
[-171.8,63.6,-168.7,63.3,-170.3,63],
[-166.5,53.9,-165.8,54.2,-165,53.7],
[-56.5,-51.6,-55,-51.8,-55.8,-52.2]
];
add('land',[NA,GR,SA,AF,EU,AU].concat(isl),true);
add('water',[
[-92,46.7,-89.5,48,-85,47.9,-84.5,46.5,-87.5,46.5],
[-87.8,42,-87,45.8,-85,46,-86.3,43.5,-86.5,42],
[-84.5,46,-81.5,45.9,-80,44.5,-81.7,43,-82.5,43.5,-84,45.5],
[-83.4,41.7,-79,42.8,-80.5,42.6,-82.5,41.6],
[-79.8,43.3,-76.2,44.2,-76.4,43.5,-79,43.2],
[47,45,49,46.5,51.5,47,53,46.8,53,45,51,44.5,51,43,52.7,41.8,53,40,53.5,39.3,53.9,37.3,51,36.7,49,37.6,49.5,40.2,48.5,41.8,47.5,43],
[103.7,51.5,105,52,108,53.5,109.5,55.7,109,55.8,107,53.5,104,51.8],
[32,0,34,-0.3,33.5,-2.5,31.7,-1.5],
[58.5,46.5,61.5,46.2,61,44.5,59,44.5]
],true);
add('bord',[
[-123,49,-95.2,49,-95,49.4,-89.5,48,-84.5,46.5,-82.4,45.3,-82.5,42.5,-79,43.2,-76.5,44.2,-74.7,45,-71.5,45,-70,46.7,-69.2,47.4,-67.8,47,-67.8,45.7,-67,44.8],
[-141,69.6,-141,60.3,-137,59,-135,59.7,-133.5,57,-130,55.9],
[-117.1,32.5,-114.7,32.7,-111,31.3,-108.2,31.3,-106.5,31.8,-104.5,29.6,-103,29,-101.5,29.8,-99.5,27.5,-97.2,25.9],
[-73,-50,-71.5,-44,-71.5,-37,-70,-32,-68.5,-27,-67.5,-22.5,-69,-18],
[-58,-20,-62,-22,-60,-19,-65,-11,-70,-10,-73,-7,-70,-4,-69.5,1,-67,2,-64,4,-60,5,-57,2,-52,2],
[-2,35,-2,32,-9,28,-8.7,27.5,-5,24,1,21,4,19,12,23.5,15,23,24,20,25,22,25,31.5],
[12,23.5,14,15,22.5,15,24,8,34,4,37,0,42,-1,40,-10.5,35,-11,32,-9,25,-11,22,-13,12,-5],
[24,20,36.5,22,38.5,18,36,14,34,10,33,4],
[15,-17,25,-17.5,33,-17,32.5,-22,29,-22,25,-26,20,-25,20,-22,16,-28.5],
[23.5,54,24,50.5,22,49.1,20,49.5,18.8,49.5,17,48.7,15,49,12,50.3,14.5,51,14,54],
[6,49.5,8,49,8,47.6,6,46.3,7,45.5,7.5,44,10,46.5,12,47.5,13,47.5,16.5,48,17,48.7,22,48.5,24,47.8,27,48.3,29,47.8,28,45.5,22.5,44.5,22,42.5,19.5,42],
[2.5,51,4,50.3,6,50.2,6,51.8,7,53.5],
[-1.8,43.4,3,42.4],[-9,42,-7,42,-7,39.5,-7.5,37.2],
[24,57.2,28,56.2,31.5,52.2,38,50,40,48,38.5,47.1],
[30,60,28,65,29.5,69],[24,69,20.5,69,18.5,67.5,16,65.5,12.5,61,12,59],
[44,42.4,46.5,41,48.5,41.8],[44,37,42,37.2,38,36.5,36,36.6],
[44,37,45,39.5,48,39],[44,37,46,33,48,30],[48,29.5,47,29,44,29,39,32,35.5,33],[48.5,29.9,61,37,65,37.5],
[61,37,67,37.2,71,38.5,74,37,78,35.5,80,32,81,30,88,28,92,27,97,28.5,101,21.5,106,22.8],
[61.5,25.1,62,29.5,60.8,31,61,34,64,36.5],[70,37,71.5,34,74,34.5,74,37],
[88,27,88,22],[92,22,92,25.5,96,28],[97.8,16.5,99.5,20,101,21.5,105,23],[100,13.2,102,14.5,105.5,14.5,106.5,14],[103,11,105,12,107.5,14.5,107,17],
[87,49,92,50.5,98,52,108,50,116,50,120,52.5,126,53,131,48,135,48.5,131,43.5,130.7,42.3],
[67,55,73,55,77,54,82,51,87,49,82,45,80,42.5,75,40,73,40,70,41,66,42,62,44,56,45,53,45],
[87,49,91,45,96,42.5,105,42,111,43.5,116,45,120,47,118,50],[124,40,129.5,41],[126,38,128.5,38.3],
[-84,22,-81,9],[-88,17.5,-89,14,-87,13],[-85.5,11,-83.7,11]
],false);
})();
</script>
</body></html>
